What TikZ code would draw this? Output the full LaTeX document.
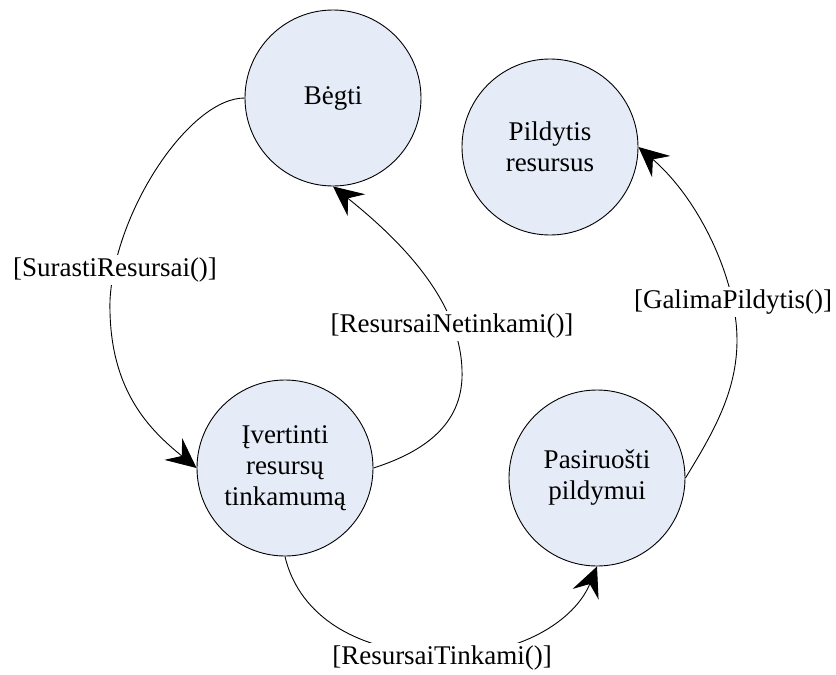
\documentclass[tikz,border=0pt]{standalone}
\usepackage{fontspec}
\setmainfont{Liberation Serif}
\usetikzlibrary{arrows.meta}
\definecolor{statefill}{RGB}{230,236,247}
\begin{document}
\begin{tikzpicture}[x=1pt,y=-1pt,
  state/.style={circle,draw=black,line width=0.9pt,fill=statefill,minimum size=176pt,inner sep=0pt,align=center,font=\fontsize{27}{31}\selectfont},
  guard/.style={fill=white,inner sep=3pt,font=\fontsize{27}{31}\selectfont},
  trans/.style={line width=0.9pt,-{Stealth[length=30pt,width=28pt,inset=11pt]}}]
\useasboundingbox (0,0) rectangle (836,675);
\node[state] (b) at (333,98) {Bėgti};
\node[state] (f) at (550,147) {Pildytis\\resursus};
\node[state] (i) at (285,468) {Įvertinti\\resursų\\tinkamumą};
\node[state] (p) at (597,478) {Pasiruošti\\pildymui};
\draw[trans] (b.west) .. controls (190,98) and (115,210) .. (110,300) .. controls (108,390) and (150,430) .. (i.west);
\draw[trans] (i.east) .. controls (430,450) and (464,420) .. (462,370) .. controls (460,300) and (400,240) .. (b.south);
\draw[trans] (i.south) .. controls (295,600) and (335,650) .. (440,655) .. controls (520,657) and (575,620) .. (p.south);
\draw[trans] (p.east) .. controls (715,430) and (737,390) .. (737,340) .. controls (737,280) and (700,200) .. (f.east);
\node[guard] (g1) at (115,270) {[SurastiResursai()]};
\node[guard] (g2) at (452,326) {[ResursaiNetinkami()]};
\node[guard] (g3) at (442,658) {[ResursaiTinkami()]};
\node[guard] (g4) at (733,302) {[GalimaPildytis()]};
\end{tikzpicture}
\end{document}
